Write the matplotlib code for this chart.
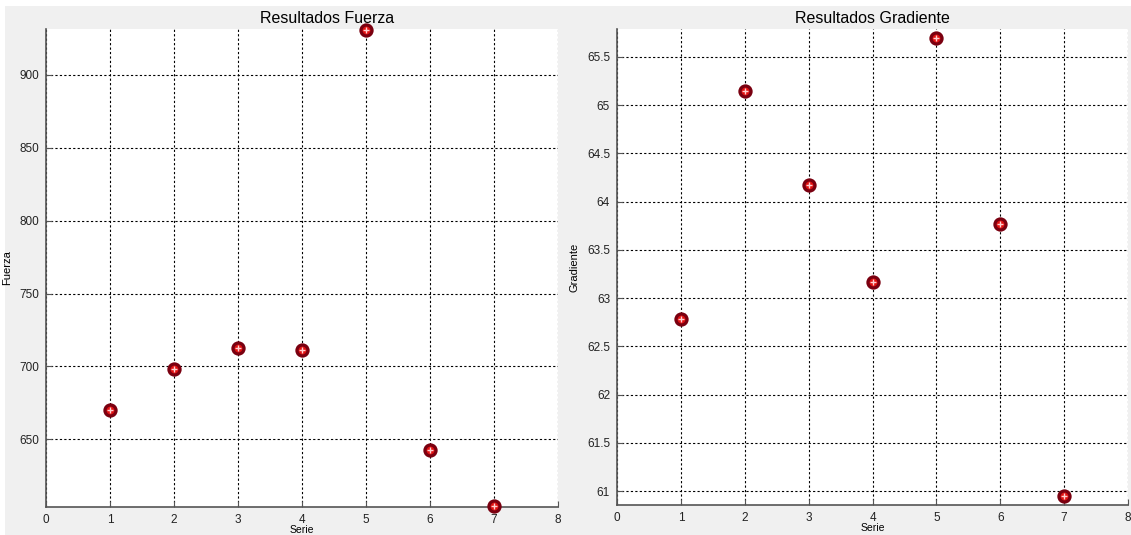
import matplotlib.pyplot as plt
from matplotlib.patches import Rectangle

serie = [1, 2, 3, 4, 5, 6, 7]
fuerza = [670, 698, 712.5, 711.5, 931, 642.5, 604]
gradiente = [62.78, 65.15, 64.17, 63.17, 65.70, 63.77, 60.95]

plt.rcParams['font.family'] = ['Liberation Sans', 'DejaVu Sans']

fig = plt.figure(figsize=(11.31, 5.35), dpi=100, facecolor='white')
fig.patches.append(Rectangle((5 / 1131, 0), 1, 1 - 6 / 535, transform=fig.transFigure,
                             facecolor='#f0f0f0', edgecolor='none', zorder=-10))

ax1 = fig.add_axes([46 / 1131, 1 - 507 / 535, 512 / 1131, 478 / 535])
ax2 = fig.add_axes([617 / 1131, 1 - 505 / 535, 511 / 1131, 476 / 535])


def style(ax, y, title, ylabel, ylim, yticks, title_x):
    ax.plot(serie, y, linestyle='none', marker='o', markersize=8,
            markerfacecolor='#e01010', markeredgecolor='#7a0010', markeredgewidth=2.3,
            zorder=5, clip_on=False)
    ax.plot(serie, y, linestyle='none', marker='+', markersize=4.5,
            markeredgecolor='#ffd0d0', markeredgewidth=1, zorder=6, clip_on=False)
    ax.set_xlim(0, 8)
    ax.set_ylim(*ylim)
    ax.set_xticks(range(9))
    ax.set_yticks(yticks)
    ax.set_yticklabels([('%g' % v) for v in yticks])
    ax.grid(True, color='black', linestyle=(0, (2, 2)), linewidth=0.8)
    ax.set_axisbelow(True)
    for s in ['top', 'right']:
        ax.spines[s].set_visible(False)
    for s in ['left', 'bottom']:
        ax.spines[s].set_color('#555555')
        ax.spines[s].set_linewidth(1.2)
    ax.tick_params(direction='in', length=4, color='#555555', labelsize=8.5,
                   labelcolor='#222222', pad=5)
    ax.set_title(title, fontsize=11.5, pad=4, x=title_x)
    ax.set_xlabel('Serie', fontsize=7.5, labelpad=-1)
    ax.set_ylabel(ylabel, fontsize=8, labelpad=5)


style(ax1, fuerza, 'Resultados Fuerza', 'Fuerza', (603.5, 931.5),
      [650, 700, 750, 800, 850, 900], 0.549)
style(ax2, gradiente, 'Resultados Gradiente', 'Gradiente', (60.855, 65.79),
      [61, 61.5, 62, 62.5, 63, 63.5, 64, 64.5, 65, 65.5], 0.5)

fig.savefig('out.png', dpi=100, facecolor=fig.get_facecolor())
